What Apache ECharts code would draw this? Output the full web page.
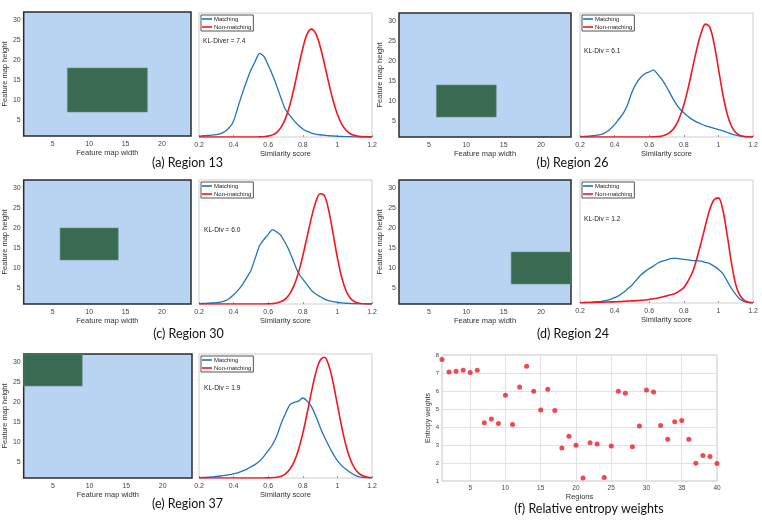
<!DOCTYPE html>
<html><head><meta charset="utf-8">
<script src="https://cdn.jsdelivr.net/npm/echarts@6/dist/echarts.min.js"></script>
<style>html,body{margin:0;padding:0;background:#fff}#c{width:762px;height:522px}</style>
</head><body><div id="c"></div>
<script>
// ---------------- DATA ----------------
const simX = [0.2,0.225,0.25,0.275,0.3,0.325,0.35,0.375,0.4,0.425,0.45,0.475,0.5,0.525,0.55,0.575,0.6,0.625,0.65,0.675,0.7,0.725,0.75,0.775,0.8,0.825,0.85,0.875,0.9,0.925,0.95,0.975,1.0,1.025,1.05,1.075,1.1,1.125,1.15,1.175,1.2];

const matchA    = [0.5,1.0,1.2,1.5,2.0,2.8,4.5,7.5,13,24,35,45,54,61,67.5,65,58,50,41,31,22,17.5,13,9.5,6.5,4.5,3.2,2.4,1.8,1.4,1.0,0.8,0.6,0.4,0.3,0.2,0.1,0,0,0,0];
const nonMatchA = [0,0,0,0,0,0,0,0,0,0,0,0,0,0,0.1,0.2,0.7,1.7,3.8,8.0,15.0,25.7,39.8,56.1,71.6,82.9,87,83.3,73.2,59.0,43.6,29.5,18.3,10.4,5.5,2.6,1.1,0.5,0.2,0.1,0];

const matchB    = [0.3,0.4,0.6,1.0,1.5,2.2,3.8,6.5,10,14.5,19,26,36,43,48,51,52.5,54,50.5,46,40.5,34,28,23,19.5,16.5,14,12,10.5,9,8,7,6,5,3.8,2.5,1.5,0.8,0.4,0.2,0.1];
const nonMatchB = [0,0,0,0,0,0,0,0,0,0,0,0,0,0,0,0,0,0.1,0.3,0.8,2.0,4.3,8.5,15.5,25.8,39.4,55.2,70.9,83.6,91,88.6,75.3,55.2,34.9,19.0,8.9,3.6,1.3,0.4,0.1,0];

const matchC    = [0.3,0.4,0.6,0.8,1.1,1.6,2.5,4.5,7.5,11,15.5,21,27,37,47,52,56,60,58,55,49,42,33,25,20,15.5,11,8,6,4,2.8,2,1.4,0.9,0.6,0.4,0.2,0.1,0.05,0,0];
const nonMatchC = [0,0,0,0,0,0,0,0,0,0,0,0,0,0,0,0,0.1,0.3,0.8,2.0,4.2,8.4,15.2,25.3,38.8,54.3,69.7,82.3,88.9,87.3,75.3,56.7,37.3,21.4,10.7,4.7,1.8,0.6,0.2,0.05,0];

const matchD    = [0.3,0.4,0.5,0.7,1.0,1.4,2.0,3.0,4.3,6,8.5,11.5,14.5,18.5,22.5,25.5,28,30,32.5,34,35,36,36.5,36,35.5,35,34.5,34.5,34,33,32,30,27.5,24,18,12,7,3,1.2,0.4,0.1];
const nonMatchD = [0.2,0.3,0.4,0.5,0.6,0.7,0.8,0.9,1.0,1.1,1.3,1.5,1.7,1.9,2.2,2.5,2.9,3.4,4.1,4.9,5.8,6.7,7.8,9.8,12.5,18,25,36,49,63,76,84,85.5,76,56,33,15,6,2.2,0.6,0.2];

const matchE    = [0.3,0.4,0.6,0.9,1.2,1.6,2.1,2.7,3.4,4.2,5.5,7,9,11,13.5,17.5,22,27,34,44,52,59,61,62,64.5,62,57.5,50,41,33,26,19.5,14,10,7,4.5,2.3,1.0,0.5,0.2,0.1];
const nonMatchE = [0,0,0,0,0,0,0,0,0,0,0,0,0,0,0,0,0.1,0.25,0.6,1.5,3.4,7.0,13.2,22.8,36.0,52.2,69.5,84.7,94.8,97.4,90.9,77,59.1,41.2,26.0,14.9,7.8,3.7,1.6,0.6,0.2];

// highlighted regions on the feature map: [x1, x2, y1, y2]
const rectA = [7, 18, 7, 18];
const rectB = [6, 14, 6, 14];
const rectC = [6, 14, 12, 20];
const rectD = [16, 24, 6, 14];
const rectE = [1, 9, 24, 32];

const klTexts  = ['KL-Diver = 7.4', 'KL-Div = 6.1', 'KL-Div = 6.0', 'KL-Div = 1.2', 'KL-Div = 1.9'];
const captions = ['(a) Region 13', '(b) Region 26', '(c) Region 30', '(d) Region 24', '(e) Region 37', '(f) Relative entropy weights'];

const regions = [1,2,3,4,5,6,7,8,9,10,11,12,13,14,15,16,17,18,19,20,21,22,23,24,25,26,27,28,29,30,31,32,33,34,35,36,37,38,39,40];
const entropyWeights = [7.75,7.05,7.1,7.15,7.03,7.15,4.23,4.44,4.19,5.77,4.14,6.22,7.37,5.99,4.94,6.1,4.92,2.84,3.49,2.99,1.17,3.12,3.06,1.19,2.95,5.98,5.88,2.9,4.06,6.05,5.94,4.08,3.32,4.29,4.36,3.32,1.98,2.41,2.36,1.97];

const mapXTicks = [5, 10, 15, 20];
const mapYTicks = [5, 10, 15, 20, 25, 30];
const regionTicks = [5, 10, 15, 20, 25, 30, 35, 40];

// ---------------- LAYOUT ----------------
const mapBoxes  = [[18,12,173,124],[399,13,172,124],[18,180,173,124],[399,180,172,124],[19,354,173,124]];
const densBoxes = [[199,13,173,124],[580,13,173,124],[199,180,173,124],[580,180,173,123],[199,354,173,124]];
const scatterBox = [442,355,275,126];
const klPos = [[4,28],[4,38],[5,50],[4,39],[5,34]];
const capPos = [[187.5,163],[572.5,163],[188.5,334],[573,334],[187.5,504],[589,509]];

const matches = [matchA, matchB, matchC, matchD, matchE];
const nonMatches = [nonMatchA, nonMatchB, nonMatchC, nonMatchD, nonMatchE];
const rects = [rectA, rectB, rectC, rectD, rectE];

const FONT = 'Liberation Sans';
const BLUE = '#1f74bd', RED = '#f2171d';
const tickStyle = {fontSize: 7, color: '#444', fontFamily: FONT};
const nameStyle = {fontSize: 7.5, color: '#333', fontFamily: FONT};

const grid = [], xAxis = [], yAxis = [], series = [], legend = [], graphic = [];

for (let i = 0; i < 5; i++) {
  // feature map panel
  const m = mapBoxes[i];
  grid.push({left: m[0], top: m[1], width: m[2], height: m[3], show: true,
    backgroundColor: '#b9d4f2', borderColor: '#2a2a2a', borderWidth: 1.5});
  let gi = grid.length - 1;
  xAxis.push({gridIndex: gi, type: 'value', min: 1, max: 24,
    axisLine: {show: false}, axisTick: {show: false}, splitLine: {show: false},
    axisLabel: Object.assign({customValues: mapXTicks, margin: 5}, tickStyle),
    name: 'Feature map width', nameLocation: 'middle', nameGap: 13, nameTextStyle: nameStyle});
  yAxis.push({gridIndex: gi, type: 'value', min: 1, max: 32,
    axisLine: {show: false}, axisTick: {show: false}, splitLine: {show: false},
    axisLabel: Object.assign({customValues: mapYTicks, margin: 3}, tickStyle),
    name: 'Feature map height', nameLocation: 'middle', nameGap: 10, nameTextStyle: nameStyle});
  series.push({type: 'custom', xAxisIndex: gi, yAxisIndex: gi, clip: true, silent: true,
    data: [rects[i]], encode: {x: [0, 1], y: [2, 3]},
    renderItem: function (params, api) {
      const p1 = api.coord([api.value(0), api.value(3)]);
      const p2 = api.coord([api.value(1), api.value(2)]);
      return {type: 'rect', shape: {x: p1[0], y: p1[1], width: p2[0] - p1[0], height: p2[1] - p1[1]},
        style: {fill: '#386b51', stroke: '#5f927a', lineWidth: 0.6}};
    }});

  // density panel
  const d = densBoxes[i];
  grid.push({left: d[0], top: d[1], width: d[2], height: d[3], show: true,
    backgroundColor: '#fff', borderColor: '#cfcfcf', borderWidth: 1});
  gi = grid.length - 1;
  xAxis.push({gridIndex: gi, type: 'value', min: 0.2, max: 1.2, interval: 0.2,
    axisLine: {show: false}, splitLine: {show: false},
    axisTick: {show: true, inside: true, length: 2, lineStyle: {color: '#999'}},
    axisLabel: Object.assign({margin: 5, formatter: v => String(parseFloat(v.toFixed(2)))}, tickStyle),
    name: 'Similarity score', nameLocation: 'middle', nameGap: 13, nameTextStyle: nameStyle});
  yAxis.push({gridIndex: gi, type: 'value', min: 0, max: 100, show: false});
  series.push({type: 'line', name: 'Matching', xAxisIndex: gi, yAxisIndex: gi,
    data: simX.map((x, k) => [x, matches[i][k]]), symbol: 'none', smooth: 0.25,
    lineStyle: {color: BLUE, width: 1.3}, itemStyle: {color: BLUE}, silent: true, z: 2});
  series.push({type: 'line', name: 'Non-matching', xAxisIndex: gi, yAxisIndex: gi,
    data: simX.map((x, k) => [x, nonMatches[i][k]]), symbol: 'none', smooth: 0.35,
    lineStyle: {color: RED, width: 1.6}, itemStyle: {color: RED}, silent: true, z: 3});
  legend.push({left: d[0] + 2, top: d[1] + 2, orient: 'vertical', data: ['Matching', 'Non-matching'],
    icon: 'rect', itemWidth: 10, itemHeight: 1.6, itemGap: 2, padding: [1, 2, 1, 1],
    borderColor: '#555', borderWidth: 1, backgroundColor: '#fff', selectedMode: false,
    textStyle: {fontSize: 6, color: '#222', fontFamily: FONT, padding: [0, 0, 0, -3]}});
  graphic.push({type: 'text', x: d[0] + klPos[i][0], y: d[1] + klPos[i][1],
    style: {text: klTexts[i], font: '6.6px "Liberation Sans"', fill: '#222',
      align: 'left', verticalAlign: 'middle', textAlign: 'left', textVerticalAlign: 'middle'}});
}

// scatter panel
grid.push({left: scatterBox[0], top: scatterBox[1], width: scatterBox[2], height: scatterBox[3],
  show: true, backgroundColor: '#fff', borderColor: '#c4c4c4', borderWidth: 1});
const sg = grid.length - 1;
xAxis.push({gridIndex: sg, type: 'value', min: 1, max: 40,
  axisLine: {show: false}, splitLine: {show: false},
  axisTick: {show: true, inside: true, length: 2, customValues: regionTicks, lineStyle: {color: '#999'}},
  axisLabel: Object.assign({customValues: regionTicks, margin: 4}, tickStyle, {fontSize: 6.5}),
  name: 'Regions', nameLocation: 'middle', nameGap: 11, nameTextStyle: nameStyle});
yAxis.push({gridIndex: sg, type: 'value', min: 1, max: 8, interval: 1,
  axisLine: {show: false}, axisTick: {show: false},
  splitLine: {show: true, lineStyle: {color: '#e2e2e2', width: 1}},
  axisLabel: Object.assign({margin: 3}, tickStyle, {fontSize: 6}),
  name: 'Entropy weights', nameLocation: 'middle', nameGap: 8, nameTextStyle: Object.assign({}, nameStyle, {fontSize: 7})});
series.push({type: 'scatter', xAxisIndex: sg, yAxisIndex: sg, z: 5, silent: true,
  data: regions.map((r, k) => [r, entropyWeights[k]]),
  symbol: 'circle', symbolSize: 5, itemStyle: {color: '#ec1c24'},
  markLine: {silent: true, symbol: 'none', z: 1, animation: false,
    label: {show: false}, lineStyle: {color: '#e2e2e2', width: 1, type: 'solid'},
    data: regionTicks.map(v => ({xAxis: v}))}});

// captions
for (let i = 0; i < captions.length; i++) {
  graphic.push({type: 'text', x: capPos[i][0], y: capPos[i][1],
    style: {text: captions[i], font: '12.5px Lato', fill: '#111',
      align: 'center', verticalAlign: 'middle', textAlign: 'center', textVerticalAlign: 'middle'}});
}

const chart = echarts.init(document.getElementById('c'), null, {renderer: 'canvas'});
chart.setOption({animation: false, backgroundColor: '#fff', grid, xAxis, yAxis, series, legend, graphic});
</script>
</body></html>
